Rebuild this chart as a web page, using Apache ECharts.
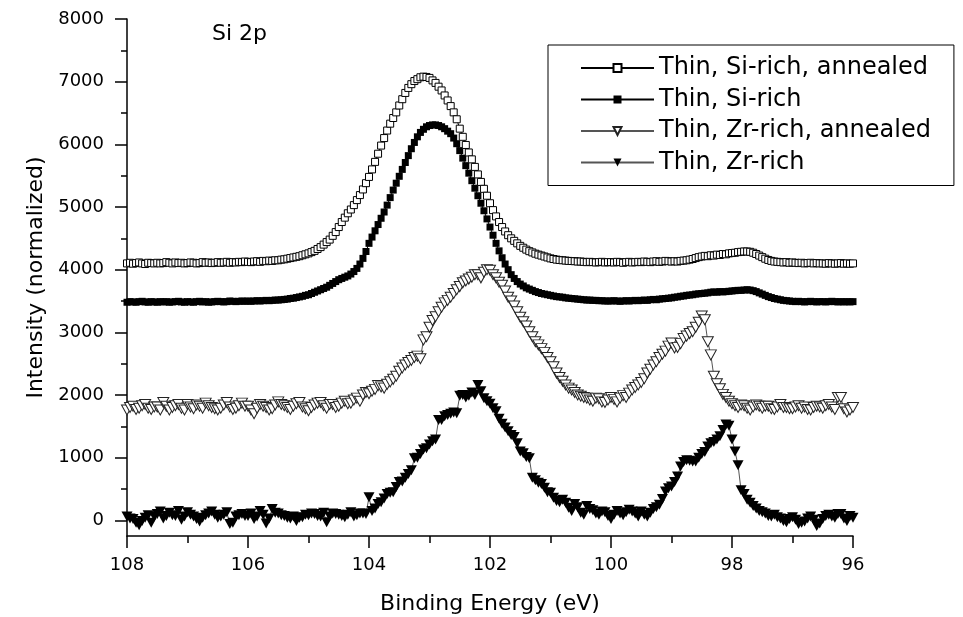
<!DOCTYPE html>
<html>
<head>
<meta charset="utf-8">
<script src="https://cdn.jsdelivr.net/npm/echarts@6/dist/echarts.min.js"></script>
<style>
html,body{margin:0;padding:0;background:#fff;}
#chart{width:963px;height:617px;}
</style>
</head>
<body>
<div id="chart"></div>
<script>
// Binding energies (eV), 0.05 eV step, shared by all four scans
const energy = [
108,107.95,107.9,107.85,107.8,107.75,107.7,107.65,107.6,107.55,
107.5,107.45,107.4,107.35,107.3,107.25,107.2,107.15,107.1,107.05,
107,106.95,106.9,106.85,106.8,106.75,106.7,106.65,106.6,106.55,
106.5,106.45,106.4,106.35,106.3,106.25,106.2,106.15,106.1,106.05,
106,105.95,105.9,105.85,105.8,105.75,105.7,105.65,105.6,105.55,
105.5,105.45,105.4,105.35,105.3,105.25,105.2,105.15,105.1,105.05,
105,104.95,104.9,104.85,104.8,104.75,104.7,104.65,104.6,104.55,
104.5,104.45,104.4,104.35,104.3,104.25,104.2,104.15,104.1,104.05,
104,103.95,103.9,103.85,103.8,103.75,103.7,103.65,103.6,103.55,
103.5,103.45,103.4,103.35,103.3,103.25,103.2,103.15,103.1,103.05,
103,102.95,102.9,102.85,102.8,102.75,102.7,102.65,102.6,102.55,
102.5,102.45,102.4,102.35,102.3,102.25,102.2,102.15,102.1,102.05,
102,101.95,101.9,101.85,101.8,101.75,101.7,101.65,101.6,101.55,
101.5,101.45,101.4,101.35,101.3,101.25,101.2,101.15,101.1,101.05,
101,100.95,100.9,100.85,100.8,100.75,100.7,100.65,100.6,100.55,
100.5,100.45,100.4,100.35,100.3,100.25,100.2,100.15,100.1,100.05,
100,99.95,99.9,99.85,99.8,99.75,99.7,99.65,99.6,99.55,
99.5,99.45,99.4,99.35,99.3,99.25,99.2,99.15,99.1,99.05,
99,98.95,98.9,98.85,98.8,98.75,98.7,98.65,98.6,98.55,
98.5,98.45,98.4,98.35,98.3,98.25,98.2,98.15,98.1,98.05,
98,97.95,97.9,97.85,97.8,97.75,97.7,97.65,97.6,97.55,
97.5,97.45,97.4,97.35,97.3,97.25,97.2,97.15,97.1,97.05,
97,96.95,96.9,96.85,96.8,96.75,96.7,96.65,96.6,96.55,
96.5,96.45,96.4,96.35,96.3,96.25,96.2,96.15,96.1,96.05,
96
];

// Thin, Si-rich, annealed (open squares)
const siRichAnnealed = [
4100,4110,4095,4105,4115,4100,4090,4110,4105,4100,
4110,4100,4105,4120,4110,4100,4115,4105,4110,4100,
4105,4115,4110,4100,4105,4120,4110,4115,4105,4110,
4120,4110,4115,4125,4110,4120,4115,4125,4120,4130,
4125,4120,4130,4135,4125,4140,4135,4145,4140,4150,
4150,4160,4165,4175,4185,4195,4205,4215,4230,4245,
4260,4280,4300,4330,4360,4400,4440,4480,4540,4600,
4680,4760,4830,4900,4960,5030,5110,5190,5280,5380,
5480,5600,5720,5850,5980,6100,6220,6330,6420,6510,
6620,6720,6820,6900,6960,7010,7040,7070,7080,7075,
7060,7020,6980,6920,6860,6780,6700,6610,6510,6400,
6250,6120,5990,5870,5760,5640,5520,5400,5290,5180,
5060,4950,4850,4760,4680,4610,4550,4500,4460,4420,
4380,4350,4320,4295,4275,4255,4240,4225,4210,4195,
4180,4170,4160,4155,4150,4145,4140,4138,4135,4130,
4130,4125,4120,4125,4120,4115,4120,4125,4115,4120,
4120,4115,4125,4120,4110,4120,4125,4115,4120,4125,
4120,4130,4125,4120,4130,4135,4125,4130,4140,4135,
4130,4135,4130,4140,4145,4150,4160,4170,4185,4200,
4210,4220,4215,4230,4225,4240,4235,4250,4245,4260,
4265,4270,4280,4285,4290,4290,4285,4270,4250,4225,
4200,4175,4155,4140,4130,4125,4120,4115,4120,4110,
4115,4110,4105,4110,4100,4105,4110,4100,4105,4100,
4100,4095,4105,4100,4095,4100,4105,4095,4100,4095,
4100
];

// Thin, Si-rich (filled squares)
const siRich = [
3480,3490,3485,3480,3490,3495,3485,3480,3490,3485,
3480,3490,3485,3490,3480,3485,3490,3495,3485,3480,
3490,3485,3480,3490,3495,3485,3490,3480,3485,3490,
3495,3490,3485,3490,3500,3495,3490,3495,3500,3495,
3500,3495,3500,3505,3500,3505,3510,3505,3510,3515,
3515,3520,3525,3530,3540,3545,3555,3565,3575,3590,
3600,3620,3640,3660,3680,3700,3720,3750,3780,3810,
3840,3860,3880,3900,3930,3970,4020,4090,4180,4290,
4420,4520,4620,4720,4820,4920,5030,5150,5270,5380,
5490,5600,5710,5820,5930,6030,6120,6190,6240,6280,
6300,6310,6310,6300,6280,6250,6210,6170,6100,6010,
5900,5780,5660,5540,5420,5300,5180,5060,4940,4810,
4680,4550,4420,4300,4190,4090,4000,3920,3860,3810,
3770,3740,3710,3690,3670,3650,3635,3620,3610,3600,
3590,3580,3570,3565,3560,3550,3545,3540,3535,3530,
3525,3520,3515,3515,3510,3510,3505,3505,3500,3500,
3500,3505,3500,3495,3500,3505,3500,3505,3510,3505,
3510,3515,3510,3520,3525,3520,3530,3535,3540,3545,
3550,3560,3565,3575,3580,3590,3595,3600,3610,3615,
3620,3625,3630,3640,3645,3640,3650,3645,3650,3655,
3660,3665,3670,3670,3675,3680,3675,3665,3650,3630,
3610,3590,3570,3555,3540,3530,3520,3510,3505,3500,
3495,3490,3495,3490,3485,3490,3495,3490,3485,3490,
3490,3485,3490,3495,3490,3485,3490,3485,3490,3485,
3490
];

// Thin, Zr-rich, annealed (open down-triangles)
const zrRichAnnealed = [
1760,1800,1820,1770,1790,1830,1850,1790,1770,1810,
1810,1760,1880,1820,1760,1800,1830,1850,1790,1760,
1850,1810,1780,1840,1820,1790,1870,1830,1800,1780,
1760,1790,1840,1880,1810,1770,1790,1830,1870,1820,
1820,1760,1700,1790,1850,1820,1800,1760,1780,1840,
1890,1850,1830,1800,1770,1820,1860,1880,1810,1780,
1750,1800,1840,1870,1880,1830,1790,1850,1850,1800,
1820,1870,1900,1860,1870,1920,1950,1900,2000,2040,
2020,2060,2090,2150,2130,2110,2170,2210,2250,2300,
2380,2430,2480,2520,2550,2600,2620,2580,2880,2930,
3080,3190,3250,3330,3400,3470,3510,3560,3620,3680,
3730,3790,3820,3850,3880,3920,3920,3870,3960,4000,
3990,3920,3870,3800,3750,3660,3560,3500,3420,3330,
3240,3170,3100,3010,2930,2850,2800,2740,2680,2600,
2530,2450,2350,2280,2220,2160,2110,2080,2040,2000,
1980,1960,1950,1920,1900,1950,1940,1890,1880,1920,
1960,1930,1890,1950,1990,1960,2030,2080,2120,2160,
2200,2260,2350,2410,2480,2530,2600,2650,2700,2780,
2830,2750,2760,2820,2900,2940,2980,3010,3080,3160,
3260,3200,2850,2640,2300,2180,2100,2010,1960,1900,
1860,1830,1800,1840,1830,1790,1760,1810,1840,1820,
1790,1820,1820,1780,1770,1810,1850,1800,1800,1780,
1780,1810,1830,1790,1810,1770,1760,1800,1820,1810,
1790,1830,1850,1810,1770,1960,1960,1780,1730,1760,
1800
];

// Thin, Zr-rich (filled down-triangles)
const zrRich = [
60,30,20,-40,-80,-10,40,80,-40,60,
100,140,30,70,120,80,70,150,10,60,
130,90,60,20,-20,40,80,110,140,90,
40,60,90,130,-60,-40,60,80,100,70,
70,110,20,60,150,90,-50,30,180,120,
110,80,70,40,30,60,-10,40,50,90,
80,110,100,70,60,120,-30,60,110,100,
90,70,50,90,130,60,80,110,110,100,
370,150,190,260,290,350,420,440,450,530,
610,620,680,740,800,990,1000,1060,1130,1150,
1210,1260,1290,1600,1600,1660,1680,1700,1720,1710,
1990,2000,1960,1990,2040,2000,2160,2060,1950,1900,
1860,1790,1740,1620,1540,1480,1420,1360,1330,1230,
1100,1070,1010,990,680,640,600,580,520,450,
440,360,310,290,330,280,200,150,260,210,
120,90,230,180,160,110,90,140,130,70,
20,90,150,110,80,130,170,140,110,60,
140,90,60,120,180,210,250,340,460,510,
540,610,700,860,930,960,950,940,940,1000,
1060,1090,1180,1230,1250,1290,1340,1440,1530,1510,
1290,1100,880,480,420,330,280,230,190,150,
130,110,70,60,90,50,30,-10,-30,20,
50,10,-60,-40,-20,30,60,10,-90,-50,
20,70,90,60,40,100,100,30,-10,70,
40
];

const seriesNames = ['Thin, Si-rich, annealed', 'Thin, Si-rich', 'Thin, Zr-rich, annealed', 'Thin, Zr-rich'];
const yMajorTicks = [0,1000,2000,3000,4000,5000,6000,7000,8000];
const yMinorTicks = [500,1500,2500,3500,4500,5500,6500,7500];

function pairs(xs, ys) { return xs.map((x, i) => [x, ys[i]]); }

const FONT = 'DejaVu Sans';
const downTri = 'path://M0,0L10,0L5,9Z';

const chart = echarts.init(document.getElementById('chart'), null, {renderer: 'canvas'});
chart.setOption({
  animation: false,
  backgroundColor: '#fff',
  title: {
    text: 'Si 2p', left: 212, top: 23, padding: 0,
    textStyle: {fontFamily: FONT, fontSize: 22, fontWeight: 'normal', color: '#000'}
  },
  legend: {
    orient: 'vertical', left: 548, top: 45,
    backgroundColor: '#fff', borderColor: '#000', borderWidth: 1, borderRadius: 0,
    padding: [11, 23, 11, 32],
    itemWidth: 73, itemHeight: 10, itemGap: 7.5,
    textStyle: {fontFamily: FONT, fontSize: 24, color: '#000', lineHeight: 24},
    data: seriesNames
  },
  grid: {left: 127, right: 110, top: 19, bottom: 81, containLabel: false, outerBoundsMode: 'none'},
  xAxis: {
    type: 'value', inverse: true, min: 96, max: 108, interval: 2,
    name: 'Binding Energy (eV)', nameLocation: 'middle', nameGap: 57,
    nameTextStyle: {fontFamily: FONT, fontSize: 22, color: '#000'},
    axisLine: {onZero: false, lineStyle: {color: '#000', width: 1.5}},
    axisTick: {show: true, inside: false, length: 12, lineStyle: {color: '#000', width: 1.5}},
    minorTick: {show: true, splitNumber: 2, length: 7, lineStyle: {color: '#000', width: 1.5}},
    axisLabel: {margin: 20, fontFamily: FONT, fontSize: 18, color: '#000'},
    splitLine: {show: false}, minorSplitLine: {show: false}
  },
  yAxis: [
    {
      type: 'value', min: -250, max: 8000, position: 'left',
      name: 'Intensity (normalized)', nameLocation: 'middle', nameGap: 76,
      nameTextStyle: {fontFamily: FONT, fontSize: 22, color: '#000'},
      axisLine: {show: true, onZero: false, lineStyle: {color: '#000', width: 1.5}},
      axisTick: {show: true, inside: false, length: 12, customValues: yMajorTicks, lineStyle: {color: '#000', width: 1.5}},
      axisLabel: {customValues: yMajorTicks, margin: 23, fontFamily: FONT, fontSize: 18, color: '#000',
                  formatter: function (v) { return String(v); }},
      splitLine: {show: false}
    },
    {
      type: 'value', min: -250, max: 8000, position: 'left', offset: 0,
      axisLine: {show: false, onZero: false},
      axisTick: {show: true, inside: false, length: 6, customValues: yMinorTicks, lineStyle: {color: '#000', width: 1.5}},
      axisLabel: {show: false},
      splitLine: {show: false}
    }
  ],
  series: [
    {
      name: seriesNames[0], type: 'line', data: pairs(energy, siRichAnnealed),
      symbol: 'rect', symbolSize: 7, showSymbol: true, showAllSymbol: true, clip: false,
      itemStyle: {color: '#fff', borderColor: '#000', borderWidth: 1},
      lineStyle: {color: '#000', width: 1}, z: 4
    },
    {
      name: seriesNames[1], type: 'line', data: pairs(energy, siRich),
      symbol: 'rect', symbolSize: 7, showSymbol: true, showAllSymbol: true, clip: false,
      itemStyle: {color: '#000', borderColor: '#000', borderWidth: 0},
      lineStyle: {color: '#000', width: 1}, z: 3
    },
    {
      name: seriesNames[2], type: 'line', data: pairs(energy, zrRichAnnealed),
      symbol: downTri, symbolSize: [11, 10], showSymbol: true, showAllSymbol: true, clip: false,
      itemStyle: {color: '#fff', borderColor: '#222', borderWidth: 1},
      lineStyle: {color: '#555', width: 1}, z: 2
    },
    {
      name: seriesNames[3], type: 'line', data: pairs(energy, zrRich),
      symbol: downTri, symbolSize: [11, 10], showSymbol: true, showAllSymbol: true, clip: false,
      itemStyle: {color: '#000', borderColor: '#000', borderWidth: 0},
      lineStyle: {color: '#555', width: 1}, z: 2
    }
  ]
});
</script>
</body>
</html>
